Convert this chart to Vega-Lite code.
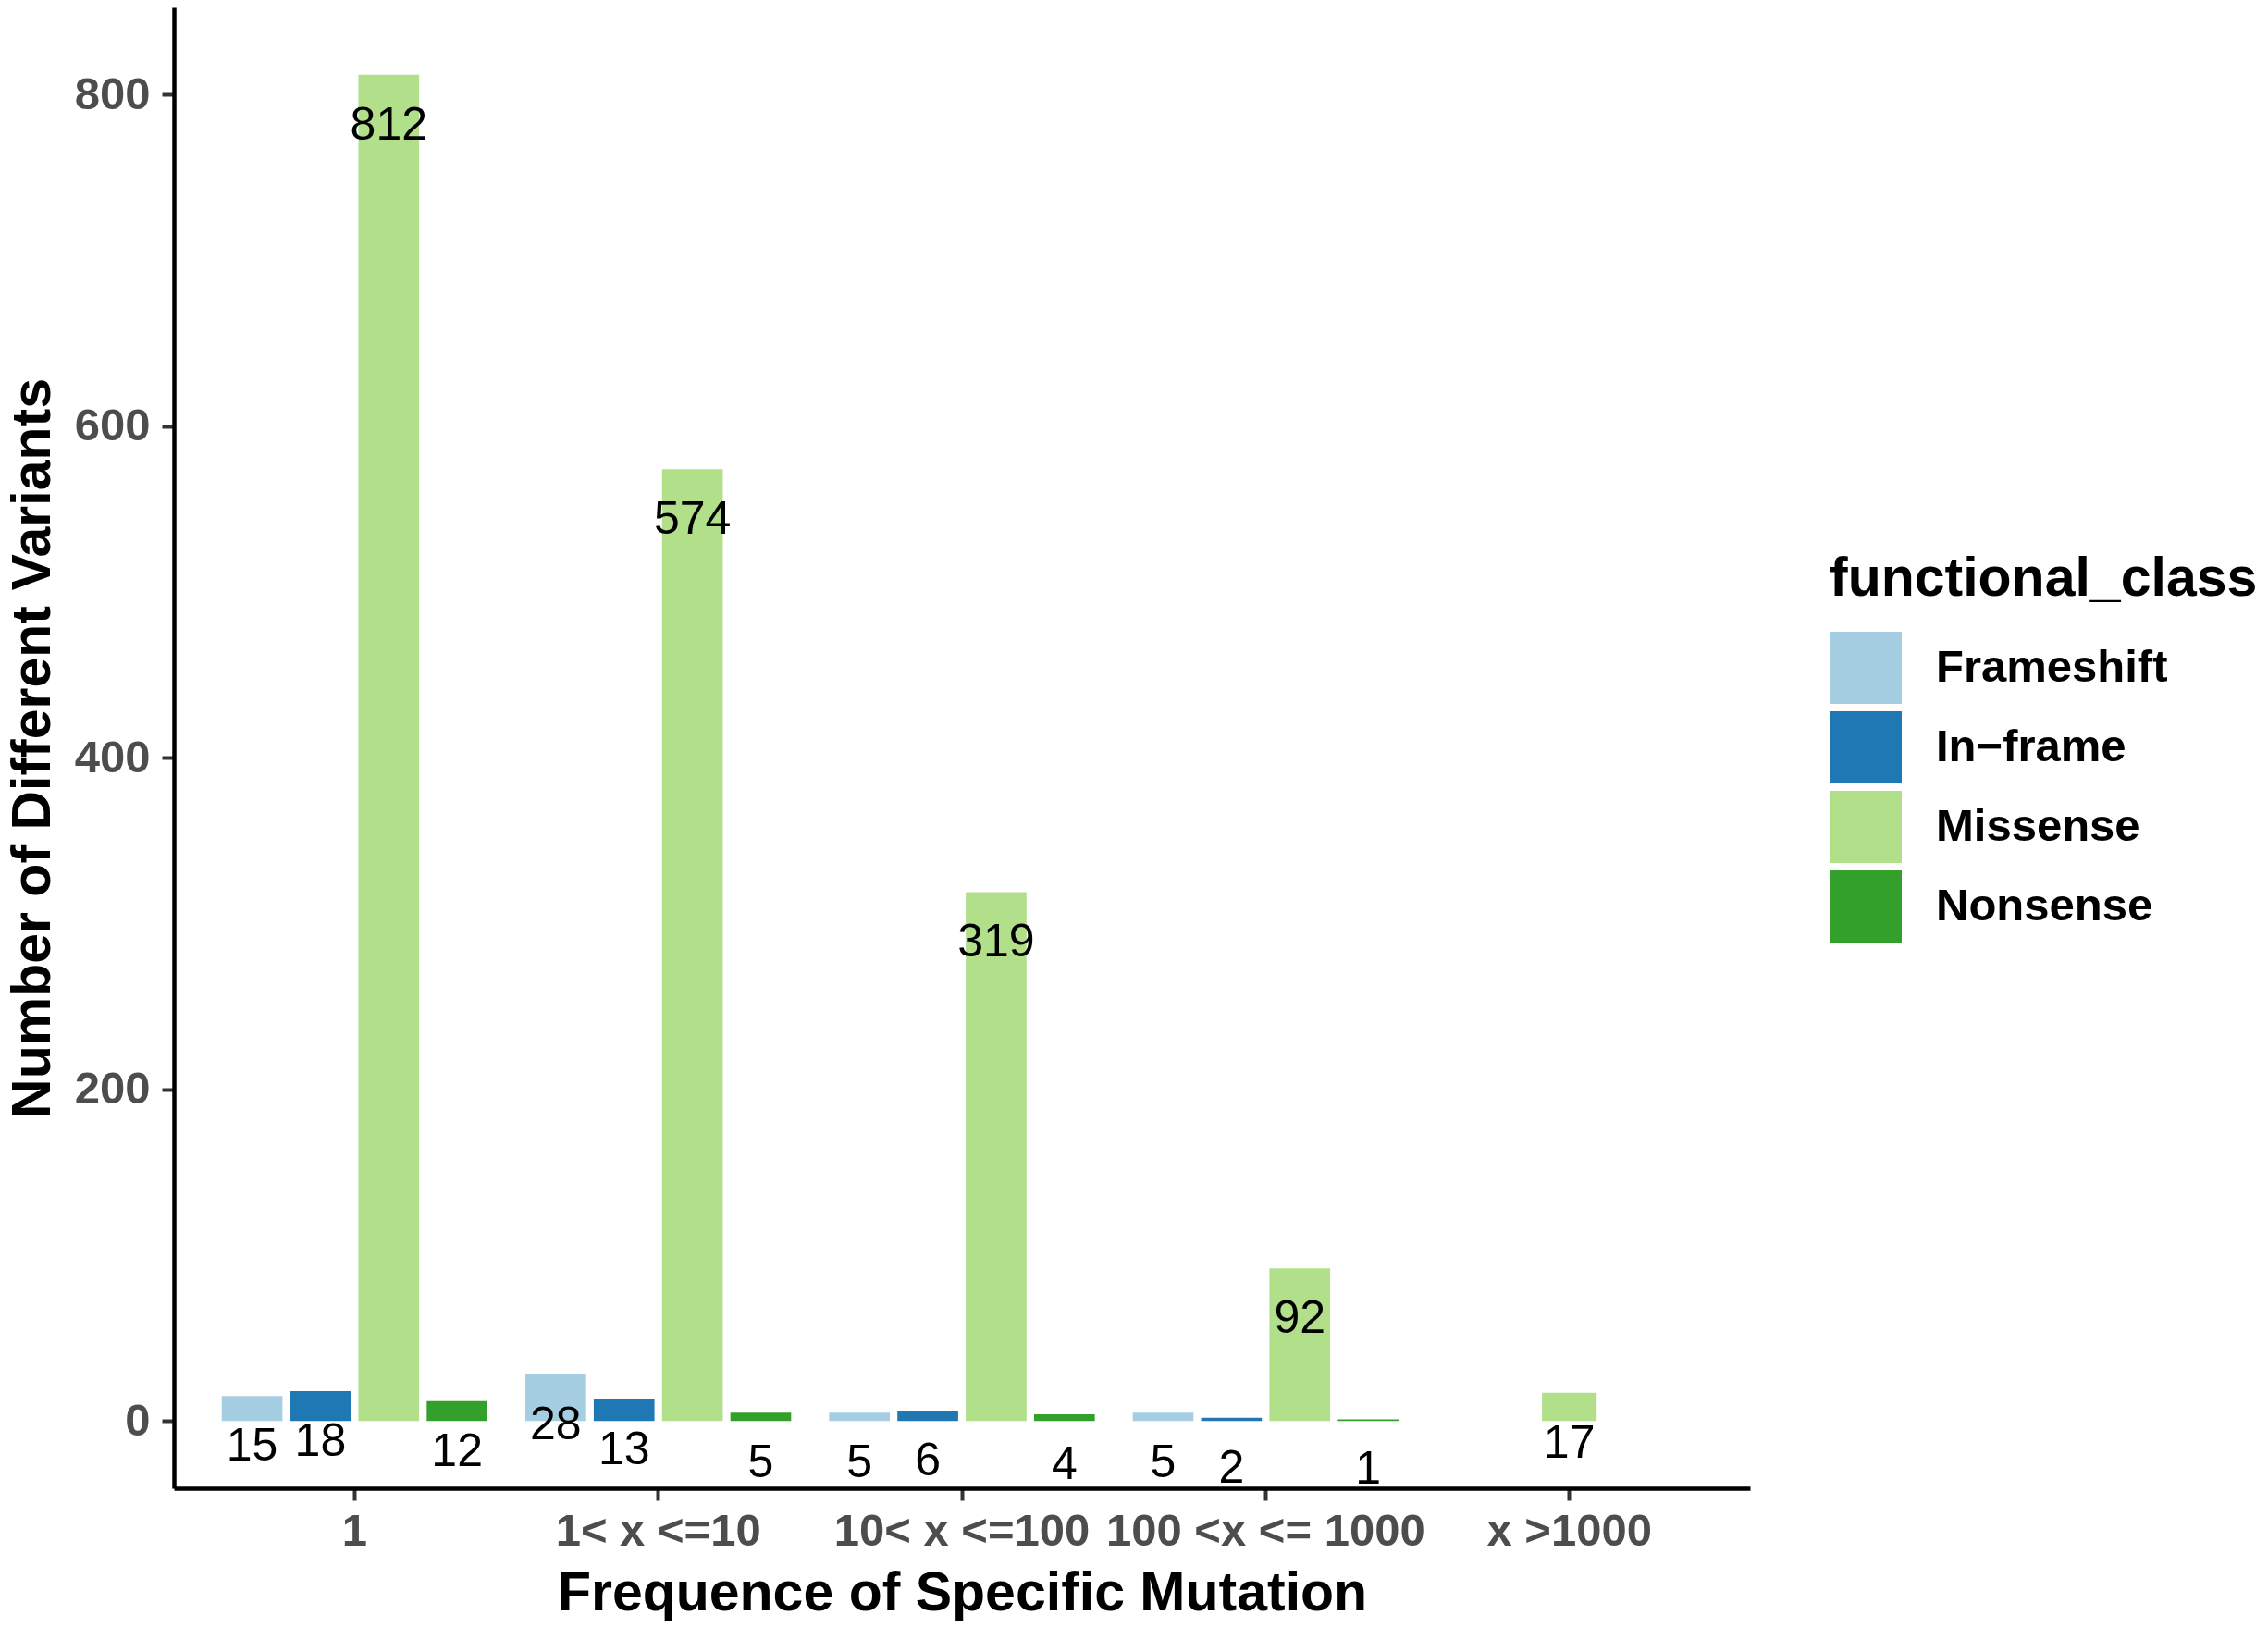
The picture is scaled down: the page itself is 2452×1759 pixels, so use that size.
{
  "$schema": "https://vega.github.io/schema/vega-lite/v6.json",
  "width": 1704,
  "height": 1601,
  "autosize": "none",
  "padding": {"left": 188, "top": 8, "right": 560, "bottom": 150},
  "background": "white",
  "data": {
    "values": [
      {"freq": "1", "functional_class": "Frameshift", "n": 15},
      {"freq": "1", "functional_class": "In−frame", "n": 18},
      {"freq": "1", "functional_class": "Missense", "n": 812},
      {"freq": "1", "functional_class": "Nonsense", "n": 12},
      {"freq": "1< x <=10", "functional_class": "Frameshift", "n": 28},
      {"freq": "1< x <=10", "functional_class": "In−frame", "n": 13},
      {"freq": "1< x <=10", "functional_class": "Missense", "n": 574},
      {"freq": "1< x <=10", "functional_class": "Nonsense", "n": 5},
      {"freq": "10< x <=100", "functional_class": "Frameshift", "n": 5},
      {"freq": "10< x <=100", "functional_class": "In−frame", "n": 6},
      {"freq": "10< x <=100", "functional_class": "Missense", "n": 319},
      {"freq": "10< x <=100", "functional_class": "Nonsense", "n": 4},
      {"freq": "100 <x <= 1000", "functional_class": "Frameshift", "n": 5},
      {"freq": "100 <x <= 1000", "functional_class": "In−frame", "n": 2},
      {"freq": "100 <x <= 1000", "functional_class": "Missense", "n": 92},
      {"freq": "100 <x <= 1000", "functional_class": "Nonsense", "n": 1},
      {"freq": "x >1000", "functional_class": "Missense", "n": 17}
    ]
  },
  "encoding": {
    "x": {
      "field": "freq", "type": "nominal",
      "scale": {"domain": ["1", "1< x <=10", "10< x <=100", "100 <x <= 1000", "x >1000"], "paddingInner": 0.1, "paddingOuter": 0.145},
      "axis": {"title": "Frequence of Specific Mutation", "labelAngle": 0, "labelPadding": 9, "titlePadding": 13, "labelLimit": 0, "labelOverlap": false}
    },
    "y": {
      "field": "n", "type": "quantitative",
      "scale": {"domain": [-40.6, 852.6], "nice": false, "zero": false},
      "axis": {"title": "Number of Different Variants", "values": [0, 200, 400, 600, 800], "labelPadding": 13, "titlePadding": 15}
    }
  },
  "layer": [
    {
      "transform": [{"filter": "datum.freq !== 'x >1000'"}],
      "encoding": {
        "xOffset": {"field": "functional_class", "type": "nominal", "scale": {"domain": ["Frameshift", "In−frame", "Missense", "Nonsense"], "paddingInner": 0.1111, "paddingOuter": 0.0556}}
      },
      "layer": [
        {
          "mark": {"type": "bar"},
          "encoding": {
            "color": {
              "field": "functional_class", "type": "nominal",
              "scale": {"domain": ["Frameshift", "In−frame", "Missense", "Nonsense"], "range": ["#A6CEE3", "#1F78B4", "#B2DF8A", "#33A02C"]},
              "legend": {
                "title": "functional_class", "orient": "none", "legendX": 1790, "legendY": 589,
                "titlePadding": 27, "symbolType": "square", "symbolSize": 6084, "symbolStrokeWidth": 0,
                "symbolOpacity": 1, "rowPadding": 8, "labelOffset": 37, "labelLimit": 0, "titleLimit": 0
              }
            }
          }
        },
        {
          "mark": {"type": "text", "dy": 55, "baseline": "middle", "align": "center", "font": "Liberation Sans", "fontSize": 50, "color": "black"},
          "encoding": {"text": {"field": "n", "type": "quantitative"}}
        }
      ]
    },
    {
      "transform": [{"filter": "datum.freq === 'x >1000'"}],
      "layer": [
        {
          "mark": {"type": "bar", "width": {"band": 0.2}},
          "encoding": {
            "color": {"field": "functional_class", "type": "nominal"}
          }
        },
        {
          "mark": {"type": "text", "dy": 55, "baseline": "middle", "align": "center", "font": "Liberation Sans", "fontSize": 50, "color": "black"},
          "encoding": {"text": {"field": "n", "type": "quantitative"}}
        }
      ]
    }
  ],
  "config": {
    "view": {"stroke": null},
    "font": "Liberation Sans",
    "axis": {
      "grid": false,
      "domainColor": "black", "domainWidth": 4.5,
      "tickColor": "#333333", "tickSize": 13, "tickWidth": 4,
      "labelFont": "Liberation Sans", "labelFontSize": 49, "labelFontWeight": "bold", "labelColor": "#4D4D4D",
      "titleFont": "Liberation Sans", "titleFontSize": 59, "titleFontWeight": "bold", "titleColor": "black"
    },
    "legend": {
      "titleFont": "Liberation Sans", "titleFontSize": 59, "titleFontWeight": "bold", "titleColor": "black",
      "labelFont": "Liberation Sans", "labelFontSize": 49, "labelFontWeight": "bold", "labelColor": "black"
    }
  }
}
